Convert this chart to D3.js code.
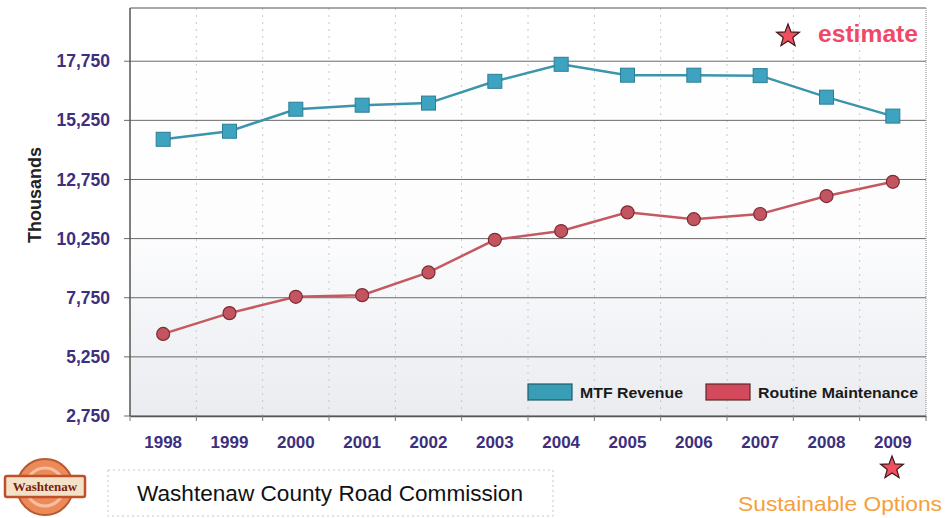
<!DOCTYPE html>
<html><head><meta charset="utf-8">
<script src="https://cdn.jsdelivr.net/npm/d3@7"></script>
<style>body{margin:0;background:#fff}svg{display:block;font-family:Arial,"Liberation Sans",sans-serif}</style>
</head><body><svg id="c" width="945" height="518"></svg>
<script>
const years = ["1998","1999","2000","2001","2002","2003","2004","2005","2006","2007","2008","2009"];
const mtfRevenue = [14450,14790,15720,15890,15980,16900,17620,17160,17160,17140,16230,15430];
const routineMaintenance = [6220,7100,7790,7860,8820,10200,10570,11360,11070,11290,12050,12650];
const yTicks = [2750,5250,7750,10250,12750,15250,17750];
const seriesNames = ["MTF Revenue","Routine Maintenance"];

const svg = d3.select("#c");
const L=130, R=926, T=8, B=416;
const x = d3.scaleBand().domain(years).range([L,R]);
const y = d3.scaleLinear().domain([2750,20000]).range([B,T]);

const defs = svg.append("defs");
const g = defs.append("linearGradient").attr("id","bg").attr("x1",0).attr("y1",0).attr("x2",0).attr("y2",1);
g.append("stop").attr("offset","0%").attr("stop-color","#ffffff");
g.append("stop").attr("offset","55%").attr("stop-color","#fdfdfe");
g.append("stop").attr("offset","80%").attr("stop-color","#f1f3f6");
g.append("stop").attr("offset","100%").attr("stop-color","#eaecf0");
svg.append("rect").attr("x",L).attr("y",T).attr("width",R-L).attr("height",B-T).attr("fill","url(#bg)");

// vertical dotted grid at band boundaries
const bounds = years.slice(1).map(d=>x(d));
svg.selectAll(".vg").data(bounds).join("line")
  .attr("x1",d=>d).attr("x2",d=>d).attr("y1",T).attr("y2",B)
  .attr("stroke","#c8c8c8").attr("stroke-width",1).attr("stroke-dasharray","2,5");

// horizontal grid
svg.selectAll(".hg").data(yTicks).join("line")
  .attr("x1",L-6).attr("x2",R).attr("y1",d=>y(d)).attr("y2",d=>y(d))
  .attr("stroke","#6a6a6a").attr("stroke-width",1);

// border
svg.append("line").attr("x1",L).attr("x2",L).attr("y1",T).attr("y2",B).attr("stroke","#555").attr("stroke-width",1.5);
svg.append("line").attr("x1",L).attr("x2",R).attr("y1",T).attr("y2",T).attr("stroke","#555").attr("stroke-width",1.2);
svg.append("line").attr("x1",R).attr("x2",R).attr("y1",T).attr("y2",B).attr("stroke","#888").attr("stroke-width",1).attr("stroke-dasharray","1,1");

// axes
const yAxis = svg.append("g").attr("transform",`translate(${L},0)`)
  .call(d3.axisLeft(y).tickValues(yTicks).tickFormat(d3.format(",")).tickSize(0).tickPadding(20));
yAxis.select(".domain").remove();
yAxis.selectAll("text").attr("font-size",17.5).attr("font-weight","bold").attr("fill","#3d2f7d");

const xAxis = svg.append("g").attr("transform",`translate(0,${B})`)
  .call(d3.axisBottom(x).tickSize(0).tickPadding(20));
xAxis.select(".domain").attr("stroke","#555").attr("stroke-width",1.5);
xAxis.selectAll("text").attr("font-size",17).attr("font-weight","bold").attr("fill","#3d2f7d");
svg.selectAll(".xt").data([L,...bounds,R]).join("line")
  .attr("x1",d=>d).attr("x2",d=>d).attr("y1",B).attr("y2",B+5).attr("stroke","#777");

svg.append("text").attr("transform","translate(41,195) rotate(-90)")
  .attr("text-anchor","middle").attr("font-size",18).attr("font-weight","bold").attr("fill","#222").text("Thousands");

const cx = d=>x(d)+x.bandwidth()/2;
const line = d3.line().x((d,i)=>cx(years[i])).y(d=>y(d));

svg.append("path").datum(mtfRevenue).attr("d",line).attr("fill","none").attr("stroke","#3a95ad").attr("stroke-width",2.5);
svg.selectAll(".sq").data(mtfRevenue).join("rect")
  .attr("x",(d,i)=>cx(years[i])-7).attr("y",d=>y(d)-7).attr("width",14).attr("height",14)
  .attr("fill","#3ea3c0").attr("stroke","#2a7e95").attr("stroke-width",1);

svg.append("path").datum(routineMaintenance).attr("d",line).attr("fill","none").attr("stroke","#c45a60").attr("stroke-width",2.5);
svg.selectAll(".ci").data(routineMaintenance).join("circle")
  .attr("cx",(d,i)=>cx(years[i])).attr("cy",d=>y(d)).attr("r",6.5)
  .attr("fill","#c25560").attr("stroke","#7e2c35").attr("stroke-width",1.2);

// legend
const leg = [{n:seriesNames[0],c:"#3a9db6",s:"#1f5d6c",x:528,w:103},{n:seriesNames[1],c:"#d24a5c",s:"#5a2a2a",x:706,w:160}];
leg.forEach(l=>{
  svg.append("rect").attr("x",l.x).attr("y",384).attr("width",44).attr("height",16).attr("fill",l.c).attr("stroke",l.s).attr("stroke-width",1.2);
  svg.append("text").attr("x",l.x+52).attr("y",398).attr("font-size",15.5).attr("font-weight","bold").attr("fill","#1a1a1a")
    .attr("textLength",l.w).attr("lengthAdjust","spacingAndGlyphs").text(l.n);
});

// stars
function star(cx,cy,r){
  const pts=[];
  for(let i=0;i<10;i++){const a=-Math.PI/2+i*Math.PI/5;const rr=i%2?r*0.42:r;pts.push([cx+rr*Math.cos(a),cy+rr*Math.sin(a)]);}
  svg.append("polygon").attr("points",pts.map(p=>p.join(",")).join(" ")).attr("fill","#f0505e").attr("stroke","#3a1a1a").attr("stroke-width",1.2);
}
star(788,36,12);
star(892,468,12);
svg.append("text").attr("x",818).attr("y",42).attr("font-size",24).attr("font-weight","bold").attr("fill","#f04866")
  .attr("textLength",100).attr("lengthAdjust","spacingAndGlyphs").text("estimate");

// footer
svg.append("rect").attr("x",108).attr("y",470).attr("width",445).attr("height",46).attr("fill","none").attr("stroke","#c8c8c8").attr("stroke-dasharray","2,3");
svg.append("text").attr("x",137).attr("y",501).attr("font-size",21.5).attr("fill","#111")
  .attr("textLength",386).attr("lengthAdjust","spacingAndGlyphs").text("Washtenaw County Road Commission");
svg.append("text").attr("x",738).attr("y",511).attr("font-size",21).attr("fill","#f4a03c")
  .attr("textLength",204).attr("lengthAdjust","spacingAndGlyphs").text("Sustainable Options");

// logo
svg.append("circle").attr("cx",45).attr("cy",487).attr("r",28).attr("fill","#ec8a5a").attr("stroke","#b85a30").attr("stroke-width",2);
svg.append("circle").attr("cx",45).attr("cy",487).attr("r",19).attr("fill","none").attr("stroke","#f6c0a0").attr("stroke-width",3);
svg.append("rect").attr("x",5).attr("y",476).attr("width",80).attr("height",21).attr("rx",2).attr("fill","#f4e2c8").attr("stroke","#c0502a").attr("stroke-width",2.5);
svg.append("text").attr("x",45).attr("y",491).attr("text-anchor","middle").attr("font-family","'Liberation Serif',serif").attr("font-weight","bold").attr("font-size",13).attr("fill","#7a1f10").text("Washtenaw");
</script></body></html>
